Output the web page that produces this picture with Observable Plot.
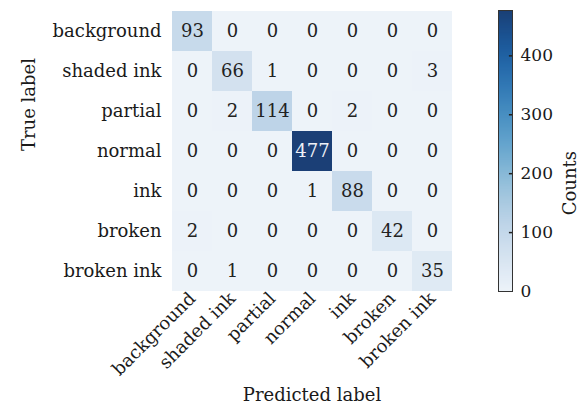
<!DOCTYPE html>
<html>
<head>
<meta charset="utf-8">
<script src="https://cdn.jsdelivr.net/npm/d3@7"></script>
<script src="https://cdn.jsdelivr.net/npm/@observablehq/plot@0.6"></script>
<style>
  html, body { margin: 0; padding: 0; background: #fff; }
  #chart { position: relative; width: 587px; height: 412px; overflow: hidden; }
  #chart svg { position: absolute; top: 0; }
</style>
</head>
<body>
<div id="chart"></div>
<script>
// Class labels (same order for true and predicted)
const labels = ["background", "shaded ink", "partial", "normal", "ink", "broken", "broken ink"];

// Confusion matrix rows: true label, columns: predicted label
const rowBackground = [93, 0, 0, 0, 0, 0, 0];
const rowShadedInk  = [0, 66, 1, 0, 0, 0, 3];
const rowPartial    = [0, 2, 114, 0, 2, 0, 0];
const rowNormal     = [0, 0, 0, 477, 0, 0, 0];
const rowInk        = [0, 0, 0, 1, 88, 0, 0];
const rowBroken     = [2, 0, 0, 0, 0, 42, 0];
const rowBrokenInk  = [0, 1, 0, 0, 0, 0, 35];
const matrix = [rowBackground, rowShadedInk, rowPartial, rowNormal, rowInk, rowBroken, rowBrokenInk];

const colorbarTicks = [0, 100, 200, 300, 400];

const cells = [];
matrix.forEach((row, i) => row.forEach((v, j) => cells.push({truth: labels[i], pred: labels[j], value: v})));
const vmax = d3.max(cells, d => d.value);

const font = "'DejaVu Serif', serif";
const fs = 18;
// Blues ramp, slightly muted (more so at the dark end)
const muted = t => d3.interpolateRgb(d3.interpolateBlues(t), "#6f86a8")(0.07 + 0.11 * t);
const colorOpts = {type: "linear", domain: [0, vmax], interpolate: () => muted};

const main = Plot.plot({
  width: 470,
  height: 412,
  marginLeft: 171,
  marginRight: 18,
  marginTop: 10,
  marginBottom: 121,
  style: {fontFamily: font, fontSize: fs + "px", color: "#1a1a1a", background: "transparent"},
  x: {domain: labels, padding: 0, label: null},
  y: {domain: labels, padding: 0, label: null},
  color: colorOpts,
  marks: [
    Plot.cell(cells, {x: "pred", y: "truth", fill: "value", inset: 0}),
    Plot.text(cells, {
      x: "pred", y: "truth", text: d => String(d.value),
      fill: d => d.value > vmax / 2 ? "#eef1f7" : "#222",
      fontSize: fs
    }),
    Plot.axisY({tickSize: 0, tickPadding: 10, fontSize: fs, label: null}),
    Plot.axisX({tickSize: 0, tickRotate: -45, tickPadding: 4, fontSize: fs, label: null}),
    Plot.text(["Predicted label"], {frameAnchor: "bottom", dy: 109, fontSize: fs}),
    Plot.text(["True label"], {frameAnchor: "left", dx: -142, rotate: -90, fontSize: fs})
  ]
});
main.style.left = "0px";

const bar = Plot.plot({
  width: 117,
  height: 412,
  marginLeft: 28,
  marginRight: 75,
  marginTop: 10,
  marginBottom: 121,
  style: {fontFamily: font, fontSize: "17px", color: "#1a1a1a", background: "transparent"},
  x: {domain: [0, 1], axis: null},
  y: {domain: [0, vmax], axis: null},
  color: colorOpts,
  marks: [
    Plot.raster({x1: 0, x2: 1, y1: 0, y2: vmax, width: 1, height: 400, fill: (x, y) => y, imageRendering: "auto"}),
    Plot.ruleY(colorbarTicks.filter(d => d > 0), {x1: 0.78, x2: 1, stroke: "#222", strokeWidth: 1.5}),
    Plot.frame({stroke: "#333", strokeWidth: 1}),
    Plot.axisY({anchor: "right", ticks: colorbarTicks, tickSize: 0, tickPadding: 8, fontSize: 17, label: null}),
    Plot.text(["Counts"], {frameAnchor: "right", dx: 58, rotate: -90, fontSize: fs})
  ]
});
bar.style.left = "470px";

document.getElementById("chart").append(main, bar);
</script>
</body>
</html>
